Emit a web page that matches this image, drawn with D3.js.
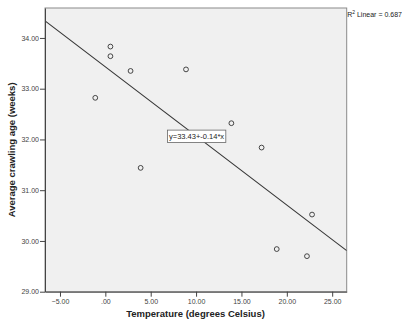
<!DOCTYPE html>
<html>
<head>
<meta charset="utf-8">
<script src="https://cdn.jsdelivr.net/npm/d3@7"></script>
<style>
  html, body { margin: 0; padding: 0; background: #fff; }
  svg { display: block; font-family: "Liberation Sans", Arial, sans-serif; }
</style>
</head>
<body>
<svg id="chart" width="402" height="322"></svg>
<script>
// Monthly mean temperature (°C) and average crawling age (weeks)
const temperature = [-1.11, 0.56, 0.56, 2.78, 8.89, 3.89, 13.89, 17.22, 22.78, 18.89, 22.22];
const crawlingAge = [32.82, 33.83, 33.64, 33.35, 33.38, 31.44, 32.32, 31.84, 30.52, 29.84, 29.70];
const xTicks = [-5, 0, 5, 10, 15, 20, 25];
const yTicks = [29, 30, 31, 32, 33, 34];
const rSquaredText = "0.687";

const svg = d3.select("#chart");
const margin = { left: 45, top: 8 };
const plotW = 346.7 - margin.left, plotH = 291.7 - margin.top;

const x = d3.scaleLinear().domain([-6.65, 26.6]).range([margin.left, margin.left + plotW]);
const y = d3.scaleLinear().domain([29, 34.59]).range([margin.top + plotH, margin.top]);

// Plot background and frame
svg.append("rect")
  .attr("x", x.range()[0]).attr("y", y.range()[1])
  .attr("width", plotW).attr("height", plotH)
  .attr("fill", "#f0f0f0").attr("stroke", "#8a8a8a").attr("stroke-width", 1);

// Least-squares fit of the points
const n = temperature.length;
const mx = d3.mean(temperature), my = d3.mean(crawlingAge);
let sxy = 0, sxx = 0;
for (let i = 0; i < n; i++) {
  sxy += (temperature[i] - mx) * (crawlingAge[i] - my);
  sxx += (temperature[i] - mx) ** 2;
}
const slope = sxy / sxx;
const intercept = my - slope * mx;

// Clip region for the fit line
svg.append("clipPath").attr("id", "plotclip")
  .append("rect")
  .attr("x", x.range()[0]).attr("y", y.range()[1])
  .attr("width", plotW).attr("height", plotH);

const [x0, x1] = x.domain();
svg.append("line")
  .attr("clip-path", "url(#plotclip)")
  .attr("x1", x(x0)).attr("y1", y(intercept + slope * x0))
  .attr("x2", x(x1)).attr("y2", y(intercept + slope * x1))
  .attr("stroke", "#333").attr("stroke-width", 1.1);

// Data points
svg.append("g").selectAll("circle")
  .data(temperature.map((t, i) => [t, crawlingAge[i]]))
  .join("circle")
  .attr("cx", d => x(d[0])).attr("cy", d => y(d[1]))
  .attr("r", 2.4)
  .attr("fill", "none").attr("stroke", "#333").attr("stroke-width", 0.9);

// SPSS-style number format: ".00" for zero, two decimals otherwise
const fmt = v => v === 0 ? ".00" : d3.format(".2f")(v);

// Axes
const xAxis = svg.append("g")
  .attr("transform", `translate(0,${y.range()[0]})`)
  .call(d3.axisBottom(x).tickValues(xTicks).tickFormat(fmt).tickSize(5).tickPadding(2).tickSizeOuter(0));
const yAxis = svg.append("g")
  .attr("transform", `translate(${x.range()[0]},0)`)
  .call(d3.axisLeft(y).tickValues(yTicks).tickFormat(fmt).tickSize(5).tickPadding(1).tickSizeOuter(0));
[xAxis, yAxis].forEach(g => {
  g.select(".domain").attr("stroke", "#444");
  g.selectAll(".tick line").attr("stroke", "#444");
  g.selectAll(".tick text").attr("fill", "#444").style("font-size", "7px")
    .style("font-family", "'Liberation Sans', Arial, sans-serif");
});

// Axis titles
svg.append("text")
  .attr("x", 195.5).attr("y", 316.5)
  .attr("text-anchor", "middle")
  .style("font-size", "9.5px").style("font-weight", "bold").attr("fill", "#222")
  .text("Temperature (degrees Celsius)");
svg.append("text")
  .attr("transform", `translate(15,${(y.range()[0] + y.range()[1]) / 2}) rotate(-90)`)
  .attr("text-anchor", "middle")
  .style("font-size", "9.5px").style("font-weight", "bold").attr("fill", "#222")
  .text("Average crawling age (weeks)");

// Fit equation label centred on the line at the mean point
const eqText = `y=${intercept.toFixed(2)}+${slope.toFixed(2)}*x`;
const eqG = svg.append("g").attr("transform", `translate(${x(mx)},${y(my)})`);
const eq = eqG.append("text")
  .attr("text-anchor", "middle").attr("dy", "0.35em")
  .style("font-size", "7.5px").attr("fill", "#222")
  .text(eqText);
const bb = eq.node().getBBox();
eqG.insert("rect", "text")
  .attr("x", bb.x - 1.5).attr("y", -6.2)
  .attr("width", bb.width + 3).attr("height", 12.4)
  .attr("fill", "#fff").attr("stroke", "#666").attr("stroke-width", 0.8);

// R² annotation
const r2 = svg.append("text")
  .attr("x", x.range()[1] + 0.5).attr("y", 17)
  .style("font-size", "7px").attr("fill", "#222");
r2.append("tspan").text("R");
r2.append("tspan").attr("dy", -3).style("font-size", "5px").text("2");
r2.append("tspan").attr("dy", 3).text(" Linear = " + rSquaredText);
</script>
</body>
</html>
